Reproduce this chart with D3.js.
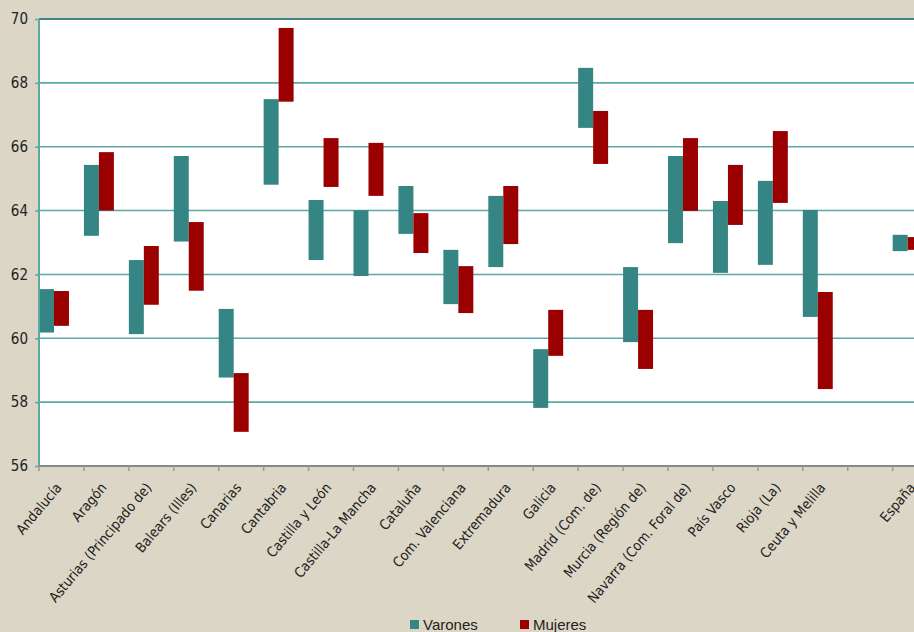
<!DOCTYPE html>
<html><head><meta charset="utf-8">
<script src="https://cdn.jsdelivr.net/npm/d3@7"></script>
<style>body{margin:0;background:#dbd6c5;overflow:hidden}svg{display:block}</style>
</head><body><svg id="c" width="914" height="632"></svg>
<script>
const categories = ["Andalucía","Aragón","Asturias (Principado de)","Balears (Illes)","Canarias","Cantabria","Castilla y León","Castilla-La Mancha","Cataluña","Com. Valenciana","Extremadura","Galicia","Madrid (Com. de)","Murcia (Región de)","Navarra (Com. Foral de)","País Vasco","Rioja (La)","Ceuta y Melilla","","España"];
const varonesLow  = [60.18,63.21,60.13,63.03,58.77,64.81,62.45,61.95,63.27,61.07,62.23,57.82,66.59,59.88,62.98,62.05,62.30,60.67,null,62.73];
const varonesHigh = [61.54,65.43,62.45,65.71,60.92,67.49,64.33,64.01,64.77,62.77,64.46,59.66,68.47,62.23,65.71,64.30,64.93,64.02,null,63.24];
const mujeresLow  = [60.39,64.00,61.05,61.49,57.07,67.41,64.74,64.46,62.67,60.79,62.95,59.45,65.46,59.04,63.99,63.55,64.24,58.41,null,62.77];
const mujeresHigh = [61.48,65.83,62.89,63.64,58.91,69.72,66.27,66.12,63.92,62.26,64.77,60.89,67.12,60.89,66.27,65.43,66.49,61.45,null,63.17];
const yTicks = [56,58,60,62,64,66,68,70];
const series = [
  {name:"Varones", low:varonesLow, high:varonesHigh, color:"#348583"},
  {name:"Mujeres", low:mujeresLow, high:mujeresHigh, color:"#9b0000"}
];

(function(){
const svg = d3.select("#c");
const pL = 39, pT = 19, pB = 466, pR = 937.6;
const x = d3.scaleBand().domain(d3.range(categories.length)).range([pL, pR]).padding(0);
const y = d3.scaleLinear().domain([56,70]).range([pB, pT]);
const bw = x.bandwidth()/3;
const labelFont = "'DejaVu Sans Condensed', 'DejaVu Sans', sans-serif";

svg.append("rect").attr("x",pL).attr("y",pT).attr("width",pR-pL).attr("height",pB-pT).attr("fill","#ffffff");

svg.append("g").selectAll("line").data(yTicks.filter(d=>d>56)).join("line")
  .attr("x1",pL).attr("x2",pR).attr("y1",d=>y(d)).attr("y2",d=>y(d))
  .attr("stroke",d=>d===70?"#3f8581":"#5ea8a5").attr("stroke-width",d=>d===70?2:1.6);

series.forEach((s,si)=>{
  svg.append("g").selectAll("rect").data(categories.map((c,i)=>i).filter(i=>s.low[i]!=null)).join("rect")
    .attr("x",i=>x(i)+si*bw).attr("width",bw)
    .attr("y",i=>y(s.high[i])).attr("height",i=>y(s.low[i])-y(s.high[i]))
    .attr("fill",s.color);
});

const ya = svg.append("g").attr("transform",`translate(${pL},0)`)
  .call(d3.axisLeft(y).tickValues(yTicks).tickSize(4).tickPadding(7).tickFormat(d3.format("d")));
ya.select(".domain").attr("stroke","#5ea8a5").attr("stroke-width",2).attr("d",`M0,${pT}V${pB}`);
ya.selectAll(".tick line").attr("stroke","#5ea8a5").attr("stroke-width",1.5);
ya.selectAll("text").attr("font-family",labelFont).attr("font-size",15).attr("fill","#222");

const xa = svg.append("g").attr("transform",`translate(0,${pB})`);
xa.append("line").attr("x1",pL).attr("x2",pR).attr("y1",0).attr("y2",0).attr("stroke","#888").attr("stroke-width",2);
xa.selectAll(".tk").data(d3.range(categories.length+1)).join("line").attr("class","tk")
  .attr("x1",i=>pL+i*x.step()).attr("x2",i=>pL+i*x.step()).attr("y1",0).attr("y2",5)
  .attr("stroke","#999").attr("stroke-width",1.5);
xa.selectAll("text").data(categories).join("text")
  .attr("transform",(d,i)=>`translate(${x(i)+x.bandwidth()/2+1},${22}) rotate(-50)`)
  .attr("text-anchor","end")
  .attr("font-family",labelFont).attr("font-size",14).attr("fill","#222")
  .text(d=>d);

const lg = svg.append("g");
const lx = [410,520];
series.forEach((s,i)=>{
  lg.append("rect").attr("x",lx[i]).attr("y",620).attr("width",9).attr("height",9).attr("fill",s.color);
  lg.append("text").attr("x",lx[i]+13).attr("y",630).attr("font-family","Liberation Sans, Arial, sans-serif")
    .attr("font-size",15).attr("fill","#222").text(s.name);
});
})();
</script></body></html>
